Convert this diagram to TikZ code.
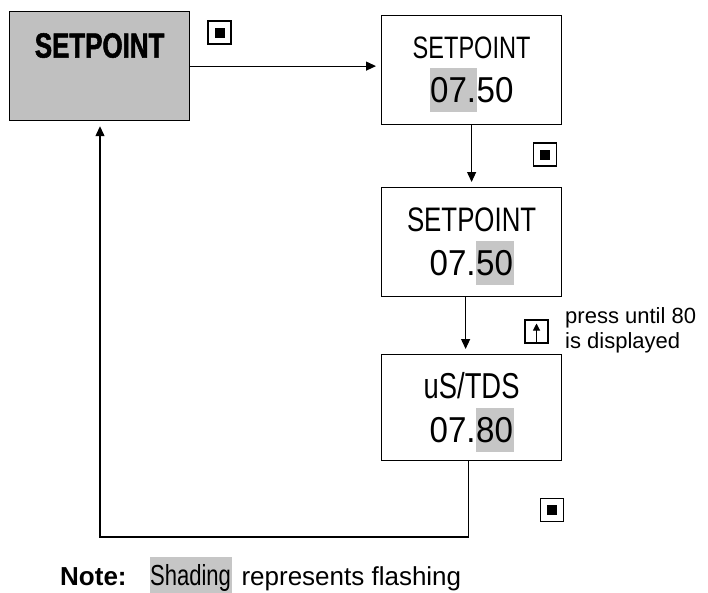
\documentclass[tikz,border=0pt]{standalone}
\usepackage{fontspec}
\setmainfont{Liberation Sans}
\newfontfamily\dispfont[FakeStretch=0.76]{Liberation Sans}
\newfontfamily\numfont[FakeStretch=0.92]{Liberation Sans}
\newfontfamily\menufont[FakeStretch=0.74,FakeBold=1.5]{Liberation Sans}
\usepackage{tikz}
\usetikzlibrary{arrows.meta}
\usepackage{xcolor}
\definecolor{menugray}{RGB}{192,192,192}
\definecolor{flashgray}{RGB}{198,198,198}
\newcommand\flash[1]{{\setlength{\fboxsep}{0.5pt}\smash{\colorbox{flashgray}{\rule[-0.25em]{0pt}{1.2em}#1}}}}

\begin{document}
\begin{tikzpicture}[
        x=1pt, y=-1pt,
        >={Triangle[length=10pt,width=9pt]},
        menubox/.style={draw, fill=menugray, line width=1.2pt, anchor=north west,
                        minimum width=180pt, inner sep=0pt, text height=46pt, text depth=63pt,
                        font=\menufont\bfseries\fontsize{35}{40}\selectfont},
        dispbox/.style={draw, line width=1.2pt, anchor=north west,
                        minimum width=180pt, minimum height=109pt, inner sep=0pt,
                        align=center, font=\numfont\fontsize{36}{44}\selectfont},
        keybtn/.style={draw, line width=1.2pt, minimum size=23pt, inner sep=0pt},
        upkey/.style={keybtn, path picture={
                        \draw[line width=1pt, -{Triangle[length=7pt,width=7pt]}]
                          ([yshift=-11pt]path picture bounding box.center) --
                          ([yshift=8pt]path picture bounding box.center);}},
        arr/.style={->, line width=1.2pt, shorten >=5pt}
      ]
        \useasboundingbox (0,0) rectangle (708,592);

        \node[menubox] (menu) at (9,11) {SETPOINT};

        \node[dispbox] (sp1) at (381,15) {{\dispfont\fontsize{31}{44}\selectfont SETPOINT}\\\flash{07.}50};
        \node[dispbox] (sp2) at (381,187) {{\dispfont\fontsize{34}{44}\selectfont SETPOINT}\\07.\flash{50}};
        \node[dispbox, minimum height=106pt] (tds) at (381,354) {{\dispfont uS/TDS}\\07.\flash{80}};

        \node[keybtn] (k1)  at (219.5,32.5) {\rule{10pt}{10pt}};
        \node[keybtn] (k2)  at (545,154.5) {\rule{10pt}{10pt}};
        \node[upkey]  (kup) at (536.5,331.5) {};
        \node[keybtn] (k3)  at (552,510) {\rule{10pt}{10pt}};

        \node[anchor=north west, inner sep=0pt, align=left, font=\fontsize{22}{25}\selectfont]
          (hint) at (565,307) {press until 80\\is displayed};
        \node[anchor=base west, inner sep=0pt, font=\fontsize{26}{30}\selectfont]
          (note) at (60,585) {\textbf{Note:}\hspace{23pt}{\dispfont\fontsize{29}{30}\selectfont\flash{Shading}}\hspace{10pt}represents flashing};

        \coordinate (turn) at (100,537);

        \draw[arr] (menu.east) -- (menu.east -| sp1.west);
        \draw[arr] (sp1.south) -- (sp2.north);
        \draw[arr] ([xshift=-6pt]sp2.south) -- ([xshift=-6pt]tds.north);
        \draw[arr] ([xshift=-3pt]tds.south) |- (turn) -- (turn |- menu.south);
      \end{tikzpicture}
\end{document}
